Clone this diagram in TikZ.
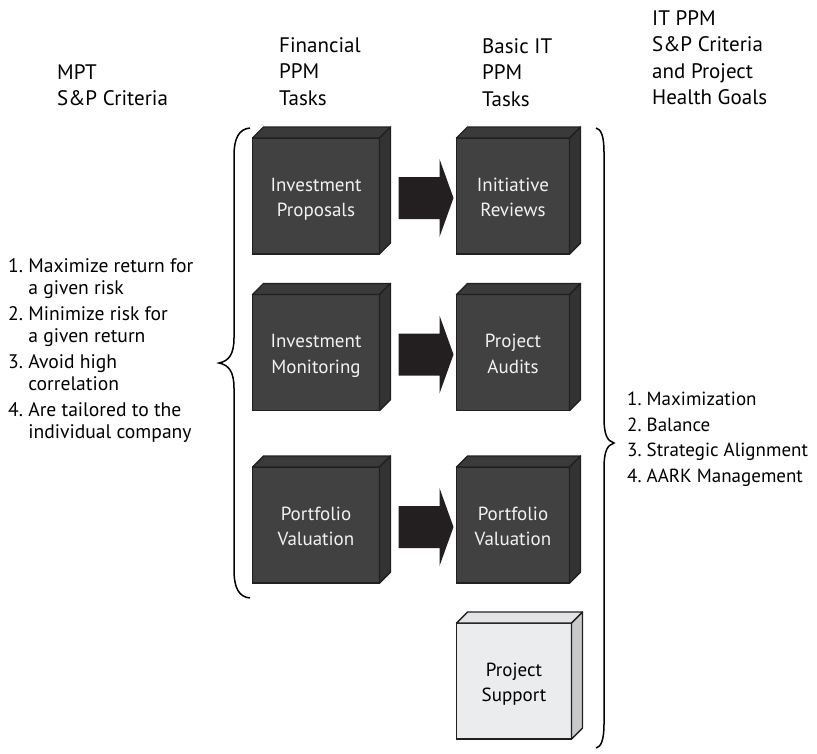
\documentclass[tikz,border=0pt]{standalone}
\usepackage{fontspec}
\setmainfont{PT Sans}
\usetikzlibrary{calc}
\definecolor{boxfront}{HTML}{414141}
\definecolor{boxtop}{HTML}{3A3A3A}
\definecolor{boxside}{HTML}{333333}
\definecolor{edgecol}{HTML}{231F20}
\definecolor{arrowfill}{HTML}{231F20}
\definecolor{lightfront}{HTML}{EBECED}
\definecolor{lighttop}{HTML}{E3E4E5}
\definecolor{lightside}{HTML}{C8C9CB}
\definecolor{boxtext}{HTML}{F2F2F2}
\tikzset{
  cube/.style={draw=edgecol, line width=1.4pt, fill=boxfront, text=boxtext, inner sep=0pt, outer sep=0pt,
    minimum height=116pt, align=center, font=\fontsize{19}{25.5}\selectfont},
  leftcube/.style={cube, minimum width=127pt},
  rightcube/.style={cube, minimum width=113pt},
  lightcube/.style={cube, fill=lightfront, text=black, minimum width=115pt},
  face/.style={draw=edgecol, line width=1.4pt, line join=round},
  header/.style={anchor=north west, inner sep=0pt, align=left, font=\fontsize{21}{26.5}\selectfont},
  listtext/.style={anchor=north west, inner sep=0pt, align=left, font=\fontsize{19.6}{22.5}\selectfont},
  bracecurve/.style={draw=black, line width=1.5pt},
  blockarrow/.style={fill=arrowfill, draw=none},
}
\newcommand\boxlabel[2]{\raisebox{-3pt}[\height][\depth]{\begin{tabular}{@{}c@{}}#1\\#2\end{tabular}}}
\newcommand\cubefaces[3]{%
  \filldraw[face, fill=#2] (#1.north west) -- ++(11,-11) -- ($(#1.north east)+(11,-11)$) -- (#1.north east) -- cycle;
  \filldraw[face, fill=#3] (#1.north east) -- ++(11,-11) -- ($(#1.south east)+(11,-11)$) -- (#1.south east) -- cycle;}
\newcommand\bigarrow[3]{% from node, to node, name prefix
  \coordinate (#3s) at ($(#1.east)+(19,2)$);
  \coordinate (#3e) at ($(#2.west)+(-3,2)$);
  \fill[blockarrow] ($(#3s)+(0,-21)$) -- ($(#3e)+(-14,-21)$) -- ($(#3e)+(-14,-39)$) -- (#3e)
    -- ($(#3e)+(-14,39)$) -- ($(#3e)+(-14,21)$) -- ($(#3s)+(0,21)$) -- cycle;}
\begin{document}
\begin{tikzpicture}[x=1pt, y=-1pt]
\useasboundingbox (0,0) rectangle (817,753);

% headers
\node[header] (h1) at (57,64) {MPT\\S\&P Criteria};
\node[header] (h2) at (279,37) {Financial\\PPM\\Tasks};
\node[header] (h3) at (482,38) {Basic IT\\PPM\\Tasks};
\node[header] (h4) at (652,10) {IT PPM\\S\&P Criteria\\and Project\\Health Goals};

% boxes
\node[leftcube] (b1) at (316,196) {\boxlabel{Investment}{Proposals}};
\node[rightcube] (b2) at (513,196) {\boxlabel{Initiative}{Reviews}};
\node[leftcube] (b3) at (316,352.5) {\boxlabel{Investment}{Monitoring}};
\node[rightcube] (b4) at (513,352.5) {\boxlabel{Project}{Audits}};
\node[leftcube] (b5) at (316,525) {\boxlabel{Portfolio}{Valuation}};
\node[rightcube] (b6) at (513,525) {\boxlabel{Portfolio}{Valuation}};
\node[lightcube] (b7) at (514,681) {\boxlabel{Project}{Support}};
\foreach \n in {b1,b2,b3,b4,b5,b6} {\cubefaces{\n}{boxtop}{boxside}}
\cubefaces{b7}{lighttop}{lightside}

% block arrows
\bigarrow{b1}{b2}{ar1}
\bigarrow{b3}{b4}{ar2}
\bigarrow{b5}{b6}{ar3}

% left brace
\draw[bracecurve] (250,128) .. controls (239,129) and (234,138) .. (234,156)
  -- (234,338) .. controls (234,354) and (229,361) .. (219,363)
  .. controls (229,365) and (234,372) .. (234,388)
  -- (234,570) .. controls (234,588) and (239,597) .. (250,598);
\coordinate (lbtip) at (219,363);

% right brace
\draw[bracecurve] (596,128) .. controls (601,129) and (604,136) .. (604,152)
  -- (604,418) .. controls (604,434) and (607,441) .. (614,443)
  .. controls (607,445) and (604,452) .. (604,468)
  -- (604,724) .. controls (604,740) and (601,747) .. (596,748);
\coordinate (rbtip) at (614,443);

% left list
\node[listtext] (l1) at (8,258) {1.~Maximize return for\\\phantom{1.~}a given risk};
\node[listtext] (l2) at (8,306) {2.~Minimize risk for\\\phantom{2.~}a given return};
\node[listtext] (l3) at (8,354) {3.~Avoid high\\\phantom{3.~}correlation};
\node[listtext] (l4) at (8,402) {4.~Are tailored to the\\\phantom{4.~}individual company};

% right list
\node[listtext, align=left, font=\fontsize{19}{25.5}\selectfont] (r1) at (627,392)
  {1.~Maximization\\2.~Balance\\3.~Strategic Alignment\\4.~AARK Management};
\end{tikzpicture}
\end{document}
